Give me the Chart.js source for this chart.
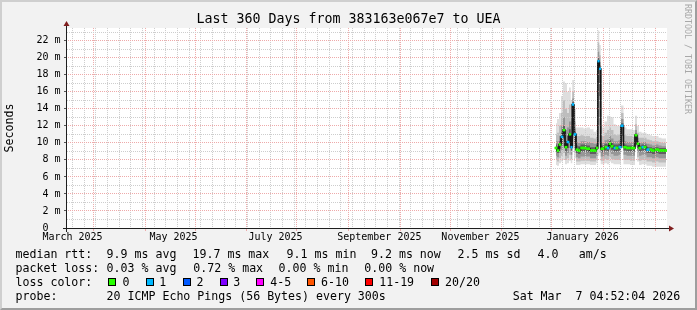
<!DOCTYPE html>
<html><head><meta charset="utf-8">
<script src="https://cdn.jsdelivr.net/npm/chart.js@4"></script>
<style>
html,body{margin:0;padding:0;background:#f2f2f2;}
#wrap{position:relative;width:697px;height:310px;background:#f2f2f2;overflow:hidden;}
#c{position:absolute;left:0;top:0;}
#frame{position:absolute;left:0;top:0;width:697px;height:310px;box-sizing:border-box;border-style:solid;border-width:2px;border-color:#cfcfcf #9e9e9e #9e9e9e #cfcfcf;pointer-events:none;}
.t{position:absolute;font-family:'DejaVu Sans Mono',monospace;font-size:11.6px;line-height:14px;white-space:pre;color:#000;}
.box{position:absolute;width:6px;height:6px;border:1px solid #000;}
#wm{position:absolute;left:683px;top:4px;writing-mode:vertical-rl;font-family:'DejaVu Sans Mono',monospace;font-size:8.3px;line-height:10px;color:#a8a8a8;white-space:pre;}
</style></head>
<body>
<div id="wrap">
<canvas id="c" width="697" height="310"></canvas>
<div id="frame"></div>
<div id="wm">RRDTOOL / TOBI OETIKER</div>
<div id="legend"></div>
</div>
<script>
// ---------- data (time in days since start of the 360-day window, values in ms) ----------
const titleText = 'Last 360 Days from 383163e067e7 to UEA';
const rangeDays = 360;
const sampleDays = [293.4,294.6,295.8,297.0,298.2,299.4,300.6,301.8,302.7,303.6,304.8,306.0,307.2,309.0,310.8,312.6,315.0,316.8,318.0,318.9,319.8,320.7,321.6,323.4,324.6,325.8,327.0,328.8,330.0,331.8,333.0,334.8,336.6,339.0,340.2,341.4,342.6,343.8,345.6,346.8,348.6,350.4,351.6,354.0,355.8,357.6,359.4];
const medianMs = [9.4,9.1,9.8,10.7,11.5,9.5,10.1,11.0,9.5,14.5, 11.0,9.2,9.1,9.4,9.4,9.3,9.1,9.1,9.4,19.6, 18.7,9.3,9.3,9.5,9.4,9.9,9.6,9.4,9.4,9.5, 12.0,9.5,9.4,9.4,9.4,10.9,9.9,9.4,9.5,9.5, 9.2,9.2,9.1,9.2,9.1,9.1,9.1];
const lossBucket = [0,0,0,1,0,0,1,0,1,1, 1,0,0,0,0,0,0,0,0,1, 1,0,0,0,1,0,0,1,0,1, 1,0,0,0,0,0,0,0,1,0, 1,0,0,0,0,0,0];
const smokeMax = [12.3,12.8,13.5,15.5,17.2,17.0,16.0,16.5,15.0,17.4, 14.0,11.8,11.8,11.8,11.7,11.8,11.6,11.3,11.5,23.2, 21.5,12.0,11.8,12.5,13.2,13.1,13.0,12.2,12.0,12.0, 14.4,11.8,11.6,11.6,11.5,13.2,12.0,11.3,11.2,11.2, 11.0,10.9,10.8,10.8,10.6,10.5,10.5];
const smokeHi1 = [11.0,11.2,12.0,13.5,15.0,14.0,13.5,14.5,12.5,16.0, 12.5,10.8,10.8,10.9,10.8,10.8,10.6,10.5,10.7,21.8, 20.3,10.8,10.8,11.2,11.5,11.8,11.5,11.0,10.9,11.0, 13.5,10.9,10.8,10.8,10.7,12.2,11.2,10.6,10.6,10.6, 10.4,10.3,10.2,10.2,10.1,10.0,10.0];
const smokeHi2 = [10.2,10.2,10.8,12.0,13.0,11.5,11.8,12.5,10.8,15.2, 11.7,10.1,10.0,10.2,10.2,10.1,10.0,9.9,10.1,20.7, 19.5,10.1,10.1,10.3,10.4,10.8,10.5,10.2,10.2,10.3, 12.8,10.2,10.1,10.1,10.1,11.5,10.6,10.0,10.1,10.1, 9.9,9.8,9.7,9.8,9.7,9.6,9.6];
const smokeHi3 = [9.8,9.6,10.2,11.2,12.0,10.2,10.8,11.6,10.0,14.8, 11.3,9.7,9.6,9.8,9.8,9.7,9.5,9.5,9.8,20.0, 19.1,9.7,9.7,9.9,9.8,10.3,10.0,9.8,9.8,9.9, 12.3,9.8,9.7,9.7,9.7,11.1,10.2,9.7,9.8,9.8, 9.5,9.5,9.4,9.5,9.4,9.4,9.4];
const smokeLo3 = [9.0,8.8,9.3,9.9,10.5,9.0,9.4,10.2,9.1,12.0, 10.0,8.8,8.7,9.0,9.0,8.9,8.7,8.7,9.0,17.0, 15.5,8.9,8.9,9.1,9.0,9.5,9.2,9.0,9.0,9.1, 10.8,9.1,9.0,9.0,9.0,10.3,9.4,9.0,9.1,9.1, 8.8,8.8,8.7,8.8,8.7,8.7,8.7];
const smokeLo2 = [8.5,8.3,8.8,9.2,9.6,8.5,8.8,9.4,8.6,10.5, 9.4,8.3,8.2,8.4,8.4,8.4,8.2,8.2,8.5,13.0, 12.0,8.4,8.4,8.6,8.5,8.9,8.7,8.5,8.5,8.6, 10.0,8.6,8.5,8.5,8.5,9.9,8.9,8.5,8.6,8.6, 8.3,8.3,8.2,8.3,8.2,8.2,8.2];
const smokeLo1 = [8.0,7.8,8.2,8.5,8.8,8.0,8.2,8.6,8.1,9.6, 8.8,7.8,7.8,7.9,7.9,7.9,7.8,7.8,8.0,10.0, 9.8,7.9,7.9,8.1,8.0,8.3,8.1,8.0,8.0,8.0, 9.6,8.0,8.0,7.9,7.9,9.6,8.3,7.9,8.0,8.0, 7.8,7.8,7.7,7.8,7.7,7.7,7.7];
const smokeMin = [7.4,7.3,7.6,7.8,8.0,7.5,7.6,7.9,7.6,9.3, 8.2,7.4,7.4,7.5,7.5,7.5,7.4,7.4,7.6,8.5, 8.8,7.5,7.5,7.6,7.5,7.8,7.6,7.5,7.5,7.5, 9.4,7.5,7.5,7.4,7.4,9.5,7.8,7.4,7.5,7.5, 7.3,7.3,7.2,7.2,7.2,7.2,7.2];

// axis ticks
const yMax = 23.5;
const yMajorTicks = [0,2,4,6,8,10,12,14,16,18,20,22];
const yTickLabels = ['0  ','2 m','4 m','6 m','8 m','10 m','12 m','14 m','16 m','18 m','20 m','22 m'];
const yMinorTicks = [1,3,5,7,9,11,13,15,17,19,21,23];
const monthLabels = ['March 2025','May 2025','July 2025','September 2025','November 2025','January 2026'];
const monthLabelDays = [3.3,63.9,125.1,187.4,248.1,309.4];
const monthGridDays = [15.8,46.8,76.8,107.8,137.8,168.8,199.8,229.8,260.8,290.8,321.8,352.8];
const weekGridDays = [3.2,10.2,17.2,24.2,31.2,38.2,45.2,52.2,59.2,66.2,73.2,80.2,87.2,94.2,101.2,108.2,115.2,122.2,129.2,136.2,143.2,150.2,157.2,164.2,171.2,178.2,185.2,192.2,199.2,206.2,213.2,220.2,227.2,234.2,241.2,248.2,255.2,262.2,269.2,276.2,283.2,290.2,297.2,304.2,311.2,318.2,325.2,332.2,339.2,346.2,353.2];

// legend
const lossLabels = ['0','1','2','3','4-5','6-10','11-19','20/20'];
const lossColors = ['#26ff00','#00b8ff','#0059ff','#7e00ff','#ff00ff','#ff5500','#ff0000','#a10000'];
const statRows = [
  ['median rtt:','9.9 ms avg','19.7 ms max','9.1 ms min','9.2 ms now','2.5 ms sd','4.0','am/s'],
  ['packet loss:','0.03 % avg','0.72 % max','0.00 % min','0.00 % now'],
  ['loss color:'],
  ['probe:','20 ICMP Echo Pings (56 Bytes) every 300s','Sat Mar  7 04:52:04 2026']
];

// ---------- layout (positions only) ----------
const rowTops = [247,261,275,289];
const rowX = [
  [15.5,106.6,192.5,286.6,371,457.6,537.6,578.8],
  [15.5,106.6,193.3,278.6,364.3],
  [15.5],
  [15.5,106.6,512.7]
];
const lossBoxX = [108.3,145.7,182.7,219.7,256.3,306.7,365.3,430.7];
const lossLabelX = [122.6,159.2,196.6,233.3,270.3,321,379.2,445];

const leg = document.getElementById('legend');
statRows.forEach((row, r) => row.forEach((txt, i) => {
  const s = document.createElement('div'); s.className = 't';
  s.style.left = rowX[r][i] + 'px'; s.style.top = rowTops[r] + 'px'; s.textContent = txt; leg.appendChild(s);
}));
lossLabels.forEach((lab, i) => {
  const b = document.createElement('div'); b.className = 'box';
  b.style.left = lossBoxX[i] + 'px'; b.style.top = '278px'; b.style.background = lossColors[i]; leg.appendChild(b);
  const s = document.createElement('div'); s.className = 't';
  s.style.left = lossLabelX[i] + 'px'; s.style.top = rowTops[2] + 'px'; s.textContent = lab; leg.appendChild(s);
});

// ---------- chart ----------
const pts = arr => sampleDays.map((d, i) => ({x: d, y: arr[i]}));
const bandColors = ['#dedede','#bdbdbd','#969696','#5f5f5f'];
const bandPairs = [[smokeMax, smokeMin],[smokeHi1, smokeLo1],[smokeHi2, smokeLo2],[smokeHi3, smokeLo3]];
const datasets = [];
datasets.push({ label:'median', data: pts(medianMs), showLine:false, order:1,
  pointStyle:'line', pointBorderWidth:2.4, pointHoverRadius:0,
  pointBorderColor: c => lossColors[lossBucket[c.dataIndex]],
  pointRadius: c => {
    const xs = c.chart.scales.x; const i = c.dataIndex;
    if (!xs || i === undefined) return 1.5;
    const prev = i > 0 ? sampleDays[i-1] : sampleDays[i] - 1.2;
    const next = i < sampleDays.length-1 ? sampleDays[i+1] : sampleDays[i] + 1.2;
    return (xs.getPixelForValue(next) - xs.getPixelForValue(prev)) / 4 + 0.3;
  }
});
datasets.push({ label:'medianLine', data: pts(medianMs), stepped:'middle', borderColor:'#151515', borderWidth:1.3, pointRadius:0, order:2, fill:false });
bandPairs.forEach((p, k) => {
  const ord = 10 - k*2;
  datasets.push({ label:'hi'+k, data: pts(p[0]), stepped:'middle', borderColor:'rgba(0,0,0,0)', borderWidth:0, pointRadius:0, fill:'+1', backgroundColor: bandColors[k], order: ord });
  datasets.push({ label:'lo'+k, data: pts(p[1]), stepped:'middle', borderColor:'rgba(0,0,0,0)', borderWidth:0, pointRadius:0, fill:false, order: ord });
});

const font = (size) => ({family:"'DejaVu Sans Mono', monospace", size, weight:'normal', lineHeight:1.2});

const decor = {
  id:'decor',
  beforeDraw(chart){
    const {ctx, chartArea:a} = chart;
    ctx.save(); ctx.fillStyle = '#ffffff'; ctx.fillRect(a.left, a.top, a.right-a.left, a.bottom-a.top); ctx.restore();
  },
  afterDraw(chart){
    const {ctx, chartArea:a} = chart;
    // median line and loss-coloured markers above the grid
    ctx.save();
    ctx.beginPath(); ctx.rect(a.left, a.top, a.right-a.left, a.bottom-a.top); ctx.clip();
    chart.getDatasetMeta(1).controller.draw();
    chart.getDatasetMeta(0).controller.draw();
    ctx.restore();
    const L = a.left, B = a.bottom, R = a.right, T = a.top;
    ctx.save();
    ctx.strokeStyle = '#1f1f1f'; ctx.lineWidth = 1;
    ctx.beginPath();
    ctx.moveTo(L-4, B+0.5); ctx.lineTo(R+4, B+0.5);
    ctx.moveTo(L-0.5, B+4); ctx.lineTo(L-0.5, T-4);
    ctx.stroke();
    ctx.fillStyle = '#801f1f';
    ctx.beginPath(); ctx.moveTo(R+2, B+0.5-3); ctx.lineTo(R+2, B+0.5+3); ctx.lineTo(R+7, B+0.5); ctx.closePath(); ctx.fill();
    ctx.beginPath(); ctx.moveTo(L-0.5-3, T-2); ctx.lineTo(L-0.5+3, T-2); ctx.lineTo(L-0.5, T-7); ctx.closePath(); ctx.fill();
    ctx.restore();
  }
};

new Chart(document.getElementById('c'), {
  type:'line',
  data:{ datasets },
  plugins:[decor],
  options:{
    responsive:false, animation:false, devicePixelRatio:1, events:[],
    layout:{ padding:{left:0, right:0, top:0, bottom:62} },
    plugins:{
      legend:{display:false}, tooltip:{enabled:false},
      title:{ display:true, text:titleText, color:'#000', font:font(13.3), padding:{top:12, bottom:0} }
    },
    scales:{
      xMinor:{ type:'linear', position:'bottom', min:0, max:rangeDays, weight:0,
        afterBuildTicks: s => { s.ticks = weekGridDays.map(v => ({value:v})); },
        afterFit: s => { s.height = 0; },
        ticks:{display:false},
        grid:{ color:'#cdcdcd', lineWidth:1, drawTicks:false, z:1 },
        border:{ display:false, dash:[1,1] }
      },
      xMajor:{ type:'linear', position:'bottom', min:0, max:rangeDays, weight:1,
        afterBuildTicks: s => { s.ticks = monthGridDays.map(v => ({value:v})); },
        afterFit: s => { s.height = 0; },
        ticks:{display:false},
        grid:{ color:'#eeaaaa', lineWidth:1, drawTicks:true, tickLength:3, tickColor:'#eeaaaa', tickBorderDash:[], z:1 },
        border:{ display:false, dash:[1,1] }
      },
      x:{ type:'linear', position:'bottom', min:0, max:rangeDays, weight:2,
        afterBuildTicks: s => { s.ticks = monthLabelDays.map(v => ({value:v})); },
        afterFit: s => { s.height = 20; },
        grid:{ display:false, drawTicks:false },
        border:{ display:true, color:'#1f1f1f', width:1 },
        ticks:{ autoSkip:false, maxRotation:0, padding:3.5, color:'#000', font:font(10),
          callback:(v, i) => monthLabels[i] }
      },
      yMinor:{ type:'linear', position:'left', min:0, max:yMax, weight:0,
        afterBuildTicks: s => { s.ticks = yMinorTicks.map(v => ({value:v})); },
        afterFit: s => { s.width = 0; },
        ticks:{display:false},
        grid:{ color:'#cdcdcd', lineWidth:1, drawTicks:false, z:1 },
        border:{ display:false, dash:[1,1] }
      },
      y:{ type:'linear', position:'left', min:0, max:yMax, weight:1,
        afterBuildTicks: s => { s.ticks = yMajorTicks.map(v => ({value:v})); },
        afterFit: s => { s.width = 67; },
        grid:{ color:'#eeaaaa', lineWidth:1, drawTicks:true, tickLength:3, tickColor:'#555555', tickBorderDash:[], z:1 },
        border:{ display:true, color:'#1f1f1f', width:1, dash:[1,1] },
        title:{ display:true, text:'Seconds', color:'#000', font:font(11.6), padding:{top:3, bottom:0} },
        ticks:{ autoSkip:false, padding:3.5, color:'#000', font:font(10), callback:(v, i) => yTickLabels[i] }
      },
      yRight:{ type:'linear', position:'right', min:0, max:yMax, display:true,
        afterBuildTicks: s => { s.ticks = []; },
        afterFit: s => { s.width = 30; },
        grid:{ display:false, drawTicks:false },
        border:{ display:false },
        ticks:{ display:false }
      }
    }
  }
});
</script>
</body></html>
